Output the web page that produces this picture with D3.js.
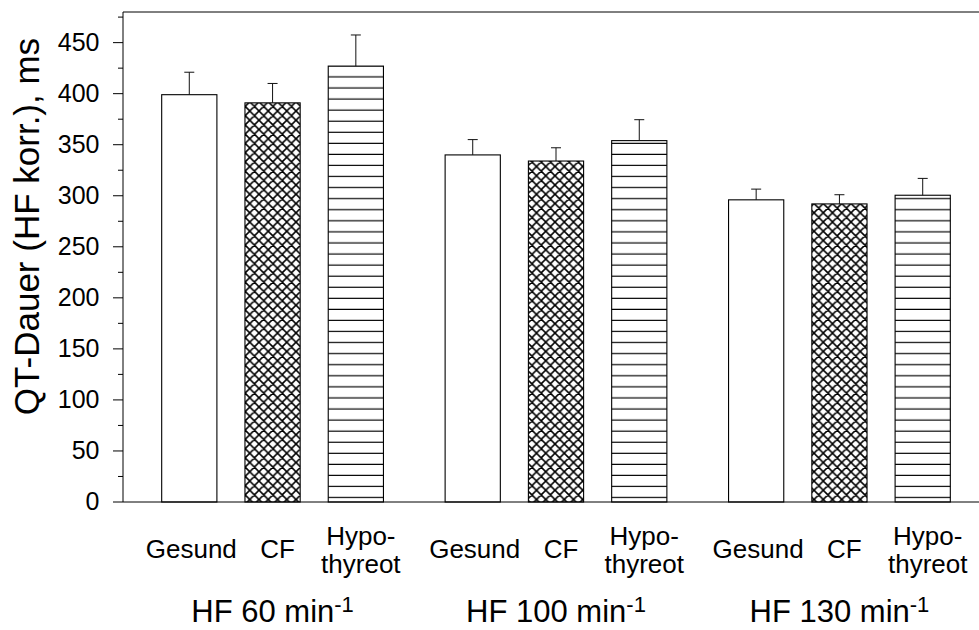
<!DOCTYPE html>
<html>
<head>
<meta charset="utf-8">
<script src="https://cdn.jsdelivr.net/npm/d3@7"></script>
<style>
  body { margin: 0; background: #fff; }
  svg { display: block; }
  text { font-family: "Liberation Sans", Arial, Helvetica, sans-serif; fill: #000; }
</style>
</head>
<body>
<svg id="chart" width="979" height="630"></svg>
<script>
// Heart-rate groups and patient series
const groups = ["HF 60 min", "HF 100 min", "HF 130 min"];
const groupSup = "-1";
const series = ["Gesund", "CF", "Hypothyreot"];
const seriesLabels = [["Gesund"], ["CF"], ["Hypo-", "thyreot"]];

// Mean QT duration (ms) and error (upper whisker length) per group
const gesund    = [399, 340, 296];
const gesundErr = [22, 15, 10.5];
const cf        = [391, 334, 292];
const cfErr     = [19, 13, 9];
const hypo      = [427, 354, 300.5];
const hypoErr   = [30.5, 20.5, 16.5];

const yMajorTicks = [0, 50, 100, 150, 200, 250, 300, 350, 400, 450];
const yMinorTicks = [25, 75, 125, 175, 225, 275, 325, 375, 425, 475];
const yLabel = "QT-Dauer (HF korr.), ms";

const values = [gesund, cf, hypo];
const errors = [gesundErr, cfErr, hypoErr];
const fills = ["#fff", "url(#crosshatch)", "url(#hlines)"];

const W = 979, H = 630;
const plot = { left: 123, top: 12, bottom: 502, right: 989 };

const svg = d3.select("#chart");

// Fill patterns (anchored to the svg origin)
const defs = svg.append("defs");
const cw = 9.25;
const cross = defs.append("pattern")
  .attr("id", "crosshatch")
  .attr("patternUnits", "userSpaceOnUse")
  .attr("width", cw).attr("height", cw);
cross.append("rect").attr("width", cw).attr("height", cw).attr("fill", "#fff");
cross.append("path")
  .attr("d", [
    `M-1,-1L${cw + 1},${cw + 1}`,
    `M${cw + 1},-1L-1,${cw + 1}`,
    `M-1,1L1,-1`,
    `M${cw - 1},${cw + 1}L${cw + 1},${cw - 1}`,
    `M${cw - 1},-1L${cw + 1},1`,
    `M-1,${cw - 1}L1,${cw + 1}`
  ].join(""))
  .attr("stroke", "#000").attr("stroke-width", 1.55).attr("fill", "none");

const lh = 11.07;
const hl = defs.append("pattern")
  .attr("id", "hlines")
  .attr("patternUnits", "userSpaceOnUse")
  .attr("width", 20).attr("height", lh);
hl.append("rect").attr("width", 20).attr("height", lh).attr("fill", "#fff");
hl.append("path").attr("d", `M0,10.5H20`)
  .attr("stroke", "#000").attr("stroke-width", 1.2);

// Scales
const y = d3.scaleLinear().domain([0, 480]).range([plot.bottom, plot.top]);
const xg = d3.scaleBand().domain(groups)
  .range([plot.left, plot.right])
  .paddingInner(0.2176).paddingOuter(0.1365);
const xs = d3.scaleBand().domain(series)
  .range([0, xg.bandwidth()])
  .paddingInner(0.337).paddingOuter(0);

// Frame line along the top
svg.append("line")
  .attr("x1", plot.left).attr("x2", W + 20)
  .attr("y1", plot.top).attr("y2", plot.top)
  .attr("stroke", "#000").attr("stroke-width", 1);

// Bars
const barData = [];
groups.forEach((g, gi) => {
  series.forEach((s, si) => {
    barData.push({ g, s, si, v: values[si][gi], e: errors[si][gi] });
  });
});

svg.append("g").selectAll("rect")
  .data(barData)
  .join("rect")
  .attr("x", d => xg(d.g) + xs(d.s))
  .attr("y", d => y(d.v))
  .attr("width", xs.bandwidth())
  .attr("height", d => y(0) - y(d.v))
  .attr("fill", d => fills[d.si])
  .attr("stroke", "#000")
  .attr("stroke-width", 1.1);

// Error whiskers (upper only)
const eb = svg.append("g").attr("stroke", "#111").attr("stroke-width", 1);
barData.forEach(d => {
  const cx = xg(d.g) + xs(d.s) + xs.bandwidth() / 2;
  eb.append("line").attr("x1", cx).attr("x2", cx)
    .attr("y1", y(d.v)).attr("y2", y(d.v + d.e));
  eb.append("line").attr("x1", cx - 5).attr("x2", cx + 5)
    .attr("y1", y(d.v + d.e)).attr("y2", y(d.v + d.e));
});

// Bottom axis line
svg.append("line")
  .attr("x1", plot.left).attr("x2", W + 20)
  .attr("y1", plot.bottom).attr("y2", plot.bottom)
  .attr("stroke", "#000").attr("stroke-width", 1);

// Y axis with major and minor ticks
const yAxis = svg.append("g")
  .attr("transform", `translate(${plot.left},0)`)
  .call(d3.axisLeft(y).tickValues(yMajorTicks).tickSize(10).tickSizeOuter(0)
    .tickPadding(13.5).offset(0));
yAxis.attr("font-family", null);
yAxis.selectAll("text").attr("font-size", 25);
yAxis.select(".domain").attr("stroke", "#000");

svg.append("g")
  .attr("transform", `translate(${plot.left},0)`)
  .call(d3.axisLeft(y).tickValues(yMinorTicks).tickSize(5).tickSizeOuter(0)
    .tickFormat(() => "").offset(0))
  .call(g => g.select(".domain").remove());

// Category labels beneath each bar
const labelShift = [2, 5, 5];
barData.forEach(d => {
  const cx = xg(d.g) + xs(d.s) + xs.bandwidth() / 2 + labelShift[d.si];
  const lines = seriesLabels[d.si];
  const t = svg.append("text")
    .attr("text-anchor", "middle")
    .attr("font-size", 26);
  if (lines.length === 1) {
    t.attr("x", cx).attr("y", 558).text(lines[0]);
  } else {
    lines.forEach((ln, i) => {
      t.append("tspan").attr("x", cx).attr("y", 545 + i * 27.5).text(ln);
    });
  }
});

// Group labels with superscript unit
groups.forEach(g => {
  const t = svg.append("text")
    .attr("x", xg(g) + xg.bandwidth() / 2)
    .attr("y", 622)
    .attr("text-anchor", "middle")
    .attr("font-size", 31);
  t.append("tspan").text(g);
  t.append("tspan").attr("font-size", 22).attr("dy", -10).text(groupSup);
});

// Y axis title
svg.append("text")
  .attr("transform", `translate(38.5,226.5) rotate(-90)`)
  .attr("text-anchor", "middle")
  .attr("font-size", 35)
  .text(yLabel);
</script>
</body>
</html>
